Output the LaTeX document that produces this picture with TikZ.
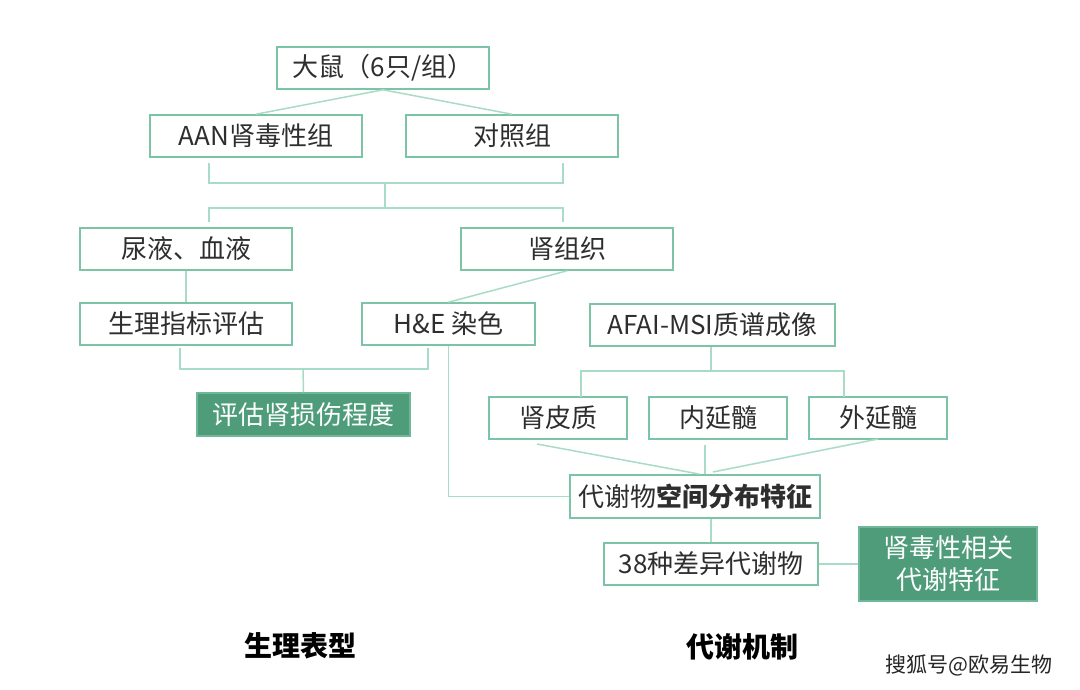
\documentclass[tikz,border=0pt]{standalone}
\usepackage{fontspec}
\newfontfamily\cjk{Noto Sans CJK SC}
\definecolor{boxgreen}{HTML}{7DC3A5}
\definecolor{linegreen}{HTML}{A9DCC6}
\definecolor{fillgreen}{HTML}{4E9C7A}
\definecolor{txt}{HTML}{2E2E2E}
\tikzset{
  box/.style={draw=boxgreen, line width=1.6pt, fill=white, inner sep=0pt, minimum height=42pt,
    text=txt, font=\cjk\fontsize{26}{30}\selectfont, align=center},
  filledbox/.style={draw=boxgreen!70!fillgreen, line width=1.2pt, fill=fillgreen, inner sep=0pt,
    text=white, font=\cjk\fontsize{26}{30}\selectfont, align=center},
  conn/.style={draw=linegreen, line width=1.5pt},
  caption/.style={text=black, font=\cjk\bfseries\fontsize{28}{32}\selectfont},
  wmark/.style={text=black!85, font=\cjk\fontsize{21}{24}\selectfont}
}
\begin{document}
\begin{tikzpicture}[x=1pt,y=-1pt]
\useasboundingbox (0,0) rectangle (1080,689);
\fill[white] (0,0) rectangle (1080,689);

% nodes
\node[box, minimum width=212pt] (rat)    at (383,68)    {大鼠（6只/组）};
\node[box, minimum width=212pt] (aan)    at (256,136)   {AAN肾毒性组};
\node[box, minimum width=212pt] (ctrl)   at (512,136)   {对照组};
\node[box, minimum width=212pt] (urine)  at (186,249)   {尿液、血液};
\node[box, minimum width=212pt] (kidney) at (567,249)   {肾组织};
\node[box, minimum width=212pt] (phys)   at (186,324)   {生理指标评估};
\node[box, minimum width=173pt] (he)     at (448.5,324) {H\&E 染色};
\node[box, minimum width=245pt] (afai)   at (712.5,325) {AFAI-MSI质谱成像};
\node[filledbox, minimum width=213pt, minimum height=43pt] (assess) at (303.5,414.5) {评估肾损伤程度};
\node[box, minimum width=138pt] (cortex) at (558,418)   {肾皮质};
\node[box, minimum width=138pt] (inner)  at (718,418)   {内延髓};
\node[box, minimum width=138pt] (outer)  at (878,418)   {外延髓};
\node[box, minimum width=250pt, minimum height=43pt] (spatial) at (695,496.5) {代谢物{\bfseries 空间分布特征}};
\node[box, minimum width=214pt] (diff)   at (711,564)   {38种差异代谢物};
\node[filledbox, minimum width=178pt, minimum height=74pt, font=\cjk\fontsize{26}{32}\selectfont] (tox) at (948,564) {肾毒性相关\\代谢特征};

\node[caption] (cap1) at (300,646) {生理表型};
\node[caption] (cap2) at (742,647) {代谢机制};
\node[wmark] (wm) at (969,665) {搜狐号@欧易生物};

% coordinates
\coordinate (b1l) at (209,163);
\coordinate (b1r) at (563,163);
\coordinate (b1m) at (385,183);
\coordinate (b2m) at (385,208);
\coordinate (b2l) at (209,222);
\coordinate (b2r) at (563,222);
\coordinate (b3l) at (180,348);
\coordinate (b3r) at (428,348);
\coordinate (b3m) at (303,369);
\coordinate (b4m) at (711,371);
\coordinate (b4l) at (581,397);
\coordinate (b4r) at (844,397);
\coordinate (cvA) at (537,444);
\coordinate (cvB) at (705,445);
\coordinate (cvC) at (878,439);
\coordinate (hA)  at (699,474);
\coordinate (hB)  at (705,474);
\coordinate (hC)  at (713,472);

% connectors
\draw[conn] (rat.south) -- (aan.north);
\draw[conn] (rat.south) -- (ctrl.north);
\draw[conn] (b1l) |- (b1m) -| (b1r);
\draw[conn] (b1m) -- (b2m);
\draw[conn] (b2l) |- (b2m) -| (b2r);
\draw[conn] (urine.south) -- (phys.north);
\draw[conn] (kidney.south) -- (he.north);
\draw[conn] (b3l) |- (b3m) -| (b3r);
\draw[conn] (b3m) -- (assess.north);
\draw[conn] (he.south) |- (spatial.west);
\draw[conn] (afai.south -| b4m) -- (b4m);
\draw[conn] (b4l) |- (b4m) -| (b4r);
\draw[conn] (cvA) -- (hA);
\draw[conn] (cvB) -- (hB);
\draw[conn] (cvC) -- (hC);
\draw[conn] (spatial.south -| diff.north) -- (diff.north);
\draw[conn] (diff.east) -- (tox.west);
\end{tikzpicture}
\end{document}
